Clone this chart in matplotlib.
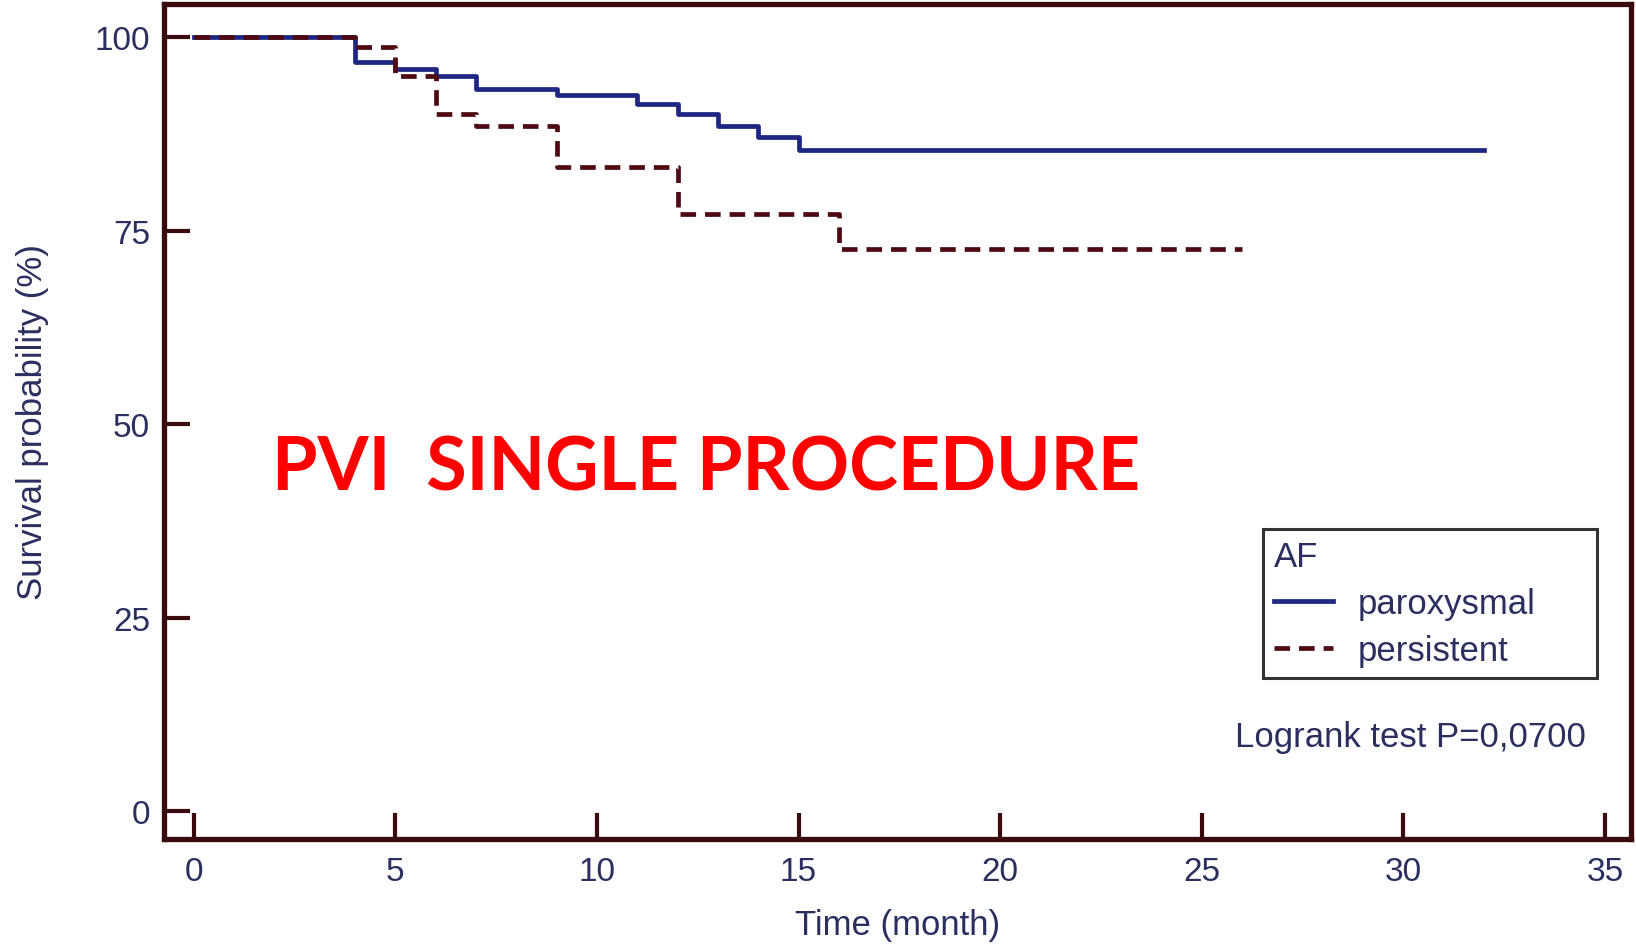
import matplotlib
matplotlib.use("Agg")
from matplotlib import pyplot as plt

# Kaplan-Meier estimates
paroxysmal_time = [0, 4, 5, 6, 7, 9, 11, 12, 13, 14, 15, 32]
paroxysmal_surv = [100, 96.8, 95.9, 95.0, 93.3, 92.5, 91.4, 90.1, 88.6, 87.1, 85.4, 85.4]
persistent_time = [0, 4, 5, 6, 7, 9, 12, 16, 26]
persistent_surv = [100, 98.8, 95.0, 90.1, 88.6, 83.2, 77.2, 72.7, 72.7]

x_ticks = [0, 5, 10, 15, 20, 25, 30, 35]
y_ticks = [0, 25, 50, 75, 100]

MAROON = '#3a0a0c'
NAVY = '#2b2f60'
BLUE = '#1d2683'
DASHRED = '#4e0a10'

plt.rcParams['font.family'] = ['Liberation Sans', 'DejaVu Sans']

fig = plt.figure(figsize=(16.36, 9.45), dpi=100)
ax = fig.add_axes([0.1002, 0.111, 0.8968, 0.8837])

ax.step(paroxysmal_time, paroxysmal_surv, where='post', color=BLUE, lw=3.4,
        label='paroxysmal')
ax.step(persistent_time, persistent_surv, where='post', color=DASHRED, lw=3.4,
        dashes=(3.3, 1.9), label='persistent')

ax.set_xlim(-0.74, 35.65)
ax.set_ylim(-3.6, 104.3)
ax.set_xticks(x_ticks)
ax.set_yticks(y_ticks)

for side in ax.spines.values():
    side.set_color(MAROON)
    side.set_linewidth(3.8)

ax.tick_params(direction='in', length=19, width=3, color=MAROON,
               labelcolor=NAVY, labelsize=24)
ax.tick_params(axis='x', pad=12)
ax.tick_params(axis='y', pad=10)

ax.set_xlabel('Time (month)', fontsize=25, color=NAVY, labelpad=15)
ax.set_ylabel('Survival probability (%)', fontsize=25, color=NAVY, labelpad=33)

# legend box stretched to the width seen in the reference
leg = ax.legend(title='AF', loc='upper left',
                bbox_to_anchor=(0.749, 0.371, 0.228, 0.0), mode='expand',
                borderaxespad=0, fontsize=25, title_fontsize=25,
                fancybox=False, frameon=True, handlelength=1.7,
                handletextpad=0.7, borderpad=0.32, labelspacing=0.4,
                alignment='left')
leg.get_frame().set_edgecolor('black')
leg.get_frame().set_linewidth(2.2)
for t in leg.get_texts():
    t.set_color(NAVY)
leg.get_title().set_color(NAVY)

ax.text(0.969, 0.123, 'Logrank test P=0,0700', transform=ax.transAxes,
        ha='right', va='center', fontsize=25, color=NAVY)

ax.text(0.074, 0.444, 'PVI  SINGLE PROCEDURE', transform=ax.transAxes,
        ha='left', va='center', fontsize=53, color='#ff0000',
        fontweight='bold', family=['Lato', 'DejaVu Sans'])

fig.savefig('out.png', dpi=100)
